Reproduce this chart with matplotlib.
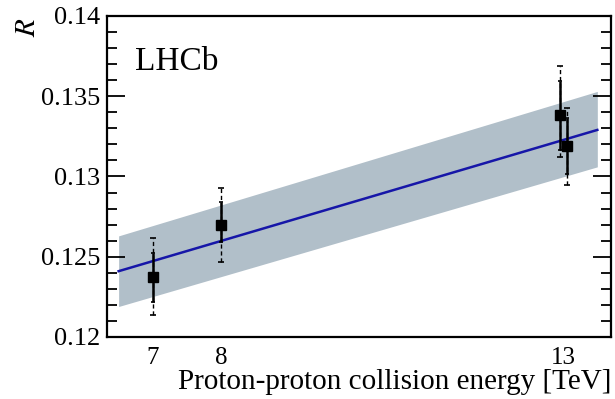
import matplotlib
matplotlib.use("Agg")
import matplotlib.pyplot as plt
from matplotlib.ticker import FixedLocator, MultipleLocator

plt.rcParams['font.family'] = ['Liberation Serif', 'DejaVu Serif']
plt.rcParams['mathtext.fontset'] = 'stix'

# data
energy = [7.0, 8.0, 12.96, 13.05]
R_val = [0.12375, 0.12700, 0.13381, 0.13188]
stat_lo = [0.12219, 0.12594, 0.13163, 0.13013]
stat_hi = [0.12525, 0.12838, 0.13594, 0.13363]
tot_lo = [0.12138, 0.12469, 0.13119, 0.12944]
tot_hi = [0.12619, 0.12931, 0.13688, 0.13425]

fit_x = [6.5, 13.5]
fit_y = [0.1241, 0.1329]
band_lo = [0.1219, 0.1306]
band_hi = [0.1263, 0.1353]

xticks = [7, 8, 13]
xticklabels = ['7', '8', '13']
yticks = [0.12, 0.125, 0.13, 0.135, 0.14]
yticklabels = ['0.12', '0.125', '0.13', '0.135', '0.14']

fig = plt.figure(figsize=(6.15, 3.99), dpi=100)
ax = fig.add_axes([0.174, 0.1554, 0.8195, 0.8046])

ax.fill_between(fit_x, band_lo, band_hi, color='#b1bfc9', lw=0, zorder=1)
ax.plot(fit_x, fit_y, color='#1616a8', lw=1.8, zorder=2)

for x, y, sl, sh, tl, th in zip(energy, R_val, stat_lo, stat_hi, tot_lo, tot_hi):
    eb = ax.errorbar([x], [y], yerr=[[y - tl], [th - y]], fmt='none', ecolor='black',
                     elinewidth=1.0, capsize=2, capthick=1.2, zorder=3)
    eb[2][0].set_linestyle((0, (3, 2)))
    ax.errorbar([x], [y], yerr=[[y - sl], [sh - y]], fmt='none', ecolor='black',
                elinewidth=1.8, capsize=1.5, capthick=1.2, zorder=4)
    ax.plot([x], [y], marker='s', color='black', markersize=6.5, zorder=5, ls='none')

ax.set_xlim(6.33, 13.70)
ax.set_ylim(0.12, 0.14)
ax.set_xticks(xticks)
ax.set_xticklabels(xticklabels)
ax.yaxis.set_major_locator(FixedLocator(yticks))
ax.set_yticklabels(yticklabels)
ax.yaxis.set_minor_locator(MultipleLocator(0.001))
ax.tick_params(axis='x', length=0, labelsize=18, pad=7)
ax.tick_params(axis='y', which='major', direction='in', length=13, width=1.3,
               labelsize=19, right=True, pad=5)
ax.tick_params(axis='y', which='minor', direction='in', length=7, width=1.3, right=True)
for s in ax.spines.values():
    s.set_linewidth(1.6)

ax.set_xlabel('Proton-proton collision energy [TeV]', fontsize=21, ha='right', x=1.0, labelpad=0)
ax.text(0.056, 0.905, 'LHCb', transform=ax.transAxes, fontsize=24, va='top', ha='left')
fig.text(28 / 615, 1 - 27 / 399, r'$R$', rotation=90, fontsize=21, ha='center', va='center')

fig.savefig('out.png', dpi=100)
